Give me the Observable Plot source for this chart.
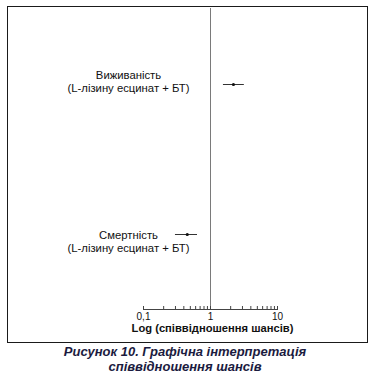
<!DOCTYPE html>
<html><head><meta charset="utf-8">
<script src="https://cdn.jsdelivr.net/npm/d3@7"></script>
<script src="https://cdn.jsdelivr.net/npm/@observablehq/plot@0.6"></script>
<style>
body{margin:0;background:#fff;font-family:"Liberation Sans",Arial,sans-serif;}
#wrap{position:relative;width:370px;height:379px;overflow:hidden;}
#frame{position:absolute;left:7px;top:6px;width:361px;height:337px;border:1.5px solid #1a1a1a;box-sizing:border-box;}
#chart{position:absolute;left:0;top:0;}
#caption{position:absolute;left:0;top:344px;width:370px;text-align:center;font:italic bold 13px "Liberation Sans",Arial,sans-serif;color:#1b1b40;line-height:15px;}
</style></head>
<body>
<div id="wrap"><div id="frame"></div><div id="chart"></div>
<div id="caption">Рисунок 10. Графічна інтерпретація<br>співвідношення шансів</div></div>
<script>
const outcomes = ["Виживаність", "Смертність"];
const subLabels = ["(L-лізину есцинат + БТ)", "(L-лізину есцинат + БТ)"];
const oddsRatio = [2.2, 0.45];
const ciLow = [1.56, 0.30];
const ciHigh = [3.2, 0.64];
const majorTicks = [0.1, 1, 10];
const majorTickLabels = ["0,1", "1", "10"];
const minorTicks = [0.2, 0.3, 0.4, 0.5, 0.6, 0.7, 0.8, 0.9, 2, 3, 4, 5, 6, 7, 8, 9];
const axisTitle = "Log (співвідношення шансів)";

const rows = outcomes.map((o, i) => ({outcome: o, sub: subLabels[i], or: oddsRatio[i], lo: ciLow[i], hi: ciHigh[i]}));
const tickRows = majorTicks.map((v, i) => ({v, label: majorTickLabels[i]}));

const chart = Plot.plot({
  width: 370, height: 345,
  marginLeft: 143, marginRight: 93, marginTop: 8, marginBottom: 36,
  style: {fontFamily: "'Liberation Sans', Arial, sans-serif", fontSize: "11px", color: "#111", background: "transparent"},
  x: {type: "log", domain: [0.1, 10]},
  y: {type: "point", domain: outcomes, padding: 0.5, axis: null},
  marks: [
    Plot.ruleX([1], {stroke: "#7a7a7a", strokeWidth: 1}),
    Plot.frame({anchor: "bottom", stroke: "#444"}),
    Plot.axisX([...majorTicks, ...minorTicks], {tickSize: -3, fill: null, label: null, stroke: "#444"}),
    Plot.text(tickRows, {x: "v", text: "label", frameAnchor: "bottom", dy: 10, fontSize: 10, fill: "#111"}),
    Plot.text([axisTitle], {frameAnchor: "bottom", dy: 22, dx: 2, fontWeight: "bold", fontSize: 11.2, fill: "#111"}),
    Plot.ruleY(rows, {y: "outcome", x1: "lo", x2: "hi", stroke: "#333", strokeWidth: 1}),
    Plot.dot(rows, {y: "outcome", x: "or", r: 1.6, fill: "#111", stroke: null}),
    Plot.text(rows.filter(d => d.outcome === outcomes[0]), {y: "outcome", frameAnchor: "left", dx: -15, dy: -3, text: d => d.outcome + "\n" + d.sub, textAnchor: "middle", lineHeight: 1.1, fontSize: 11.3, fill: "#111"}),
    Plot.text(rows.filter(d => d.outcome === outcomes[1]), {y: "outcome", frameAnchor: "left", dx: -15, dy: 7, text: d => d.outcome + "\n" + d.sub, textAnchor: "middle", lineHeight: 1.1, fontSize: 11.3, fill: "#111"})
  ]
});
document.getElementById("chart").append(chart);
</script>
</body></html>
